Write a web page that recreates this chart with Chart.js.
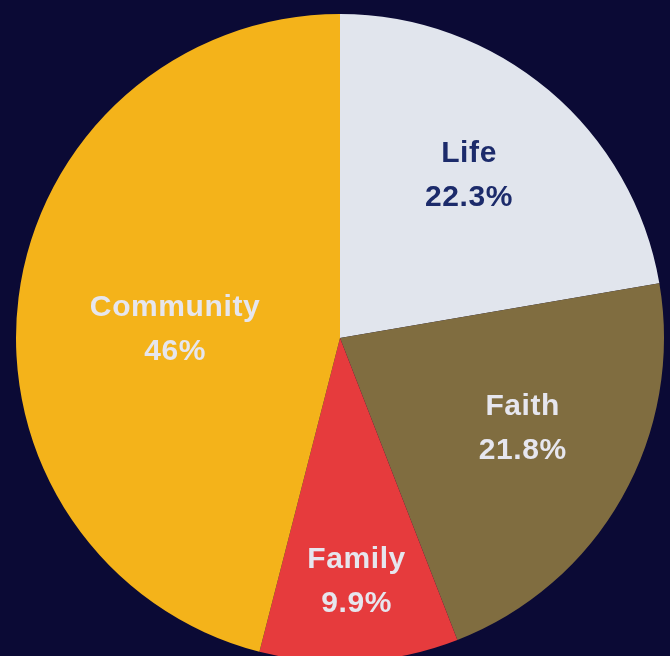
<!DOCTYPE html>
<html>
<head>
<meta charset="utf-8">
<script src="https://cdn.jsdelivr.net/npm/chart.js@4/dist/chart.umd.min.js"></script>
<style>
  html, body { margin: 0; padding: 0; background: #0b0a35; overflow: hidden; }
  #wrap { position: absolute; left: 0; top: 0; width: 680px; height: 676px; }
</style>
</head>
<body>
<div id="wrap"><canvas id="pieChart" width="680" height="676"></canvas></div>
<script>
// chart data
const categories = ['Life', 'Faith', 'Family', 'Community'];
const shares = [22.3, 21.8, 9.9, 46];
const percentLabels = ['22.3%', '21.8%', '9.9%', '46%'];

// look
const sliceColors = ['#e1e5ed', '#806d40', '#e63b3d', '#f4b31a'];
const textColors = ['#1c2b6b', '#e6e6ee', '#e6e6ee', '#e6e6ee'];
const labelRadius = [0.645, 0.627, 0.747, 0.51];
const labelTurn = [-2, -3.6, -0.5, -3.7]; // degrees

const insideLabels = {
    id: 'insideLabels',
    afterDatasetsDraw(chart) {
        const ctx = chart.ctx;
        const meta = chart.getDatasetMeta(0);
        ctx.save();
        ctx.font = 'bold 30px "Liberation Sans", Arial, sans-serif';
        ctx.letterSpacing = '0.6px';
        ctx.textAlign = 'center';
        ctx.textBaseline = 'middle';
        meta.data.forEach((arc, i) => {
            const p = arc.getProps(['x', 'y', 'startAngle', 'endAngle', 'outerRadius'], true);
            const mid = (p.startAngle + p.endAngle) / 2 + labelTurn[i] * Math.PI / 180;
            const r = p.outerRadius * labelRadius[i];
            const x = p.x + Math.cos(mid) * r;
            const y = p.y + Math.sin(mid) * r + 2;
            ctx.fillStyle = textColors[i];
            ctx.fillText(categories[i], x, y - 22);
            ctx.fillText(percentLabels[i], x, y + 22);
        });
        ctx.restore();
    }
};

new Chart(document.getElementById('pieChart').getContext('2d'), {
    type: 'pie',
    data: {
        labels: categories,
        datasets: [{
            data: shares,
            backgroundColor: sliceColors,
            borderWidth: 0
        }]
    },
    options: {
        responsive: false,
        animation: false,
        layout: { padding: 14 },
        plugins: {
            legend: { display: false },
            tooltip: { enabled: false }
        }
    },
    plugins: [insideLabels]
});
</script>
</body>
</html>
